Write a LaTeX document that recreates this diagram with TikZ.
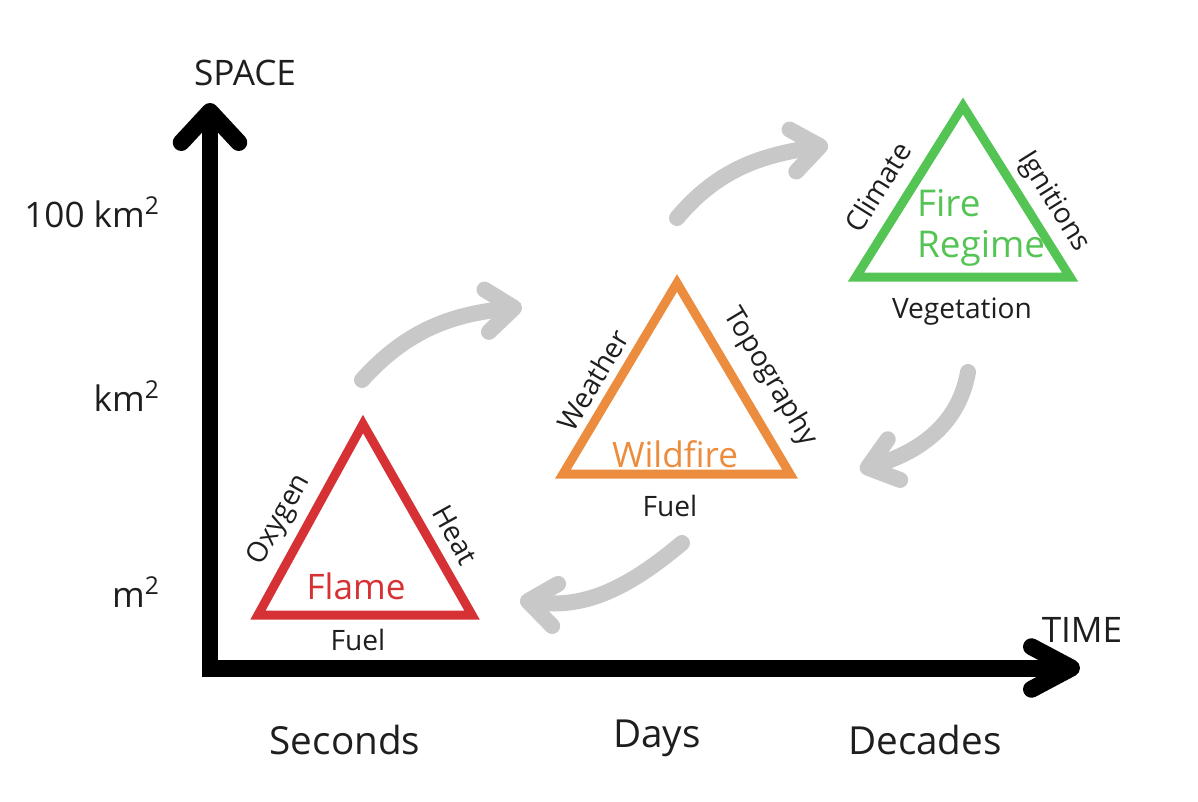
\documentclass[tikz,border=0pt]{standalone}
\usepackage{fontspec}
\setmainfont{Open Sans}
\usepackage{tikz}
\usetikzlibrary{arrows.meta, positioning}
\definecolor{flamered}{RGB}{214,50,54}
\definecolor{wildorange}{RGB}{236,140,62}
\definecolor{regimegreen}{RGB}{84,196,84}
\definecolor{cyclegray}{RGB}{200,200,200}
\definecolor{labelblack}{RGB}{30,30,30}

\begin{document}
\begin{tikzpicture}[
                x=0.02cm, y=0.02cm,
                axis/.style={line width=0.34cm, line join=miter, draw=black},
                cycle_arrow/.style={line width=0.32cm, draw=cyclegray, line cap=round, -{Straight Barb[length=0.55cm, width=0.85cm, round]}},
                triangle/.style={line width=0.18cm, line join=miter},
                scale_label/.style={anchor=east, text=labelblack, font=\fontsize{20}{24}\selectfont},
                axis_name/.style={text=labelblack, font=\fontsize{20}{24}\selectfont},
                time_label/.style={text=labelblack, font=\fontsize{22}{26}\selectfont},
                side_label/.style={text=labelblack, inner sep=1pt, font=\fontsize{16}{19}\selectfont},
                title_label/.style={font=\fontsize{20}{24}\selectfont}
            ]%
            \useasboundingbox (0,0) rectangle (1198,-802);
            %
            % Ejes
            \coordinate (origin) at (210,-668);
            \coordinate (space_end) at (210,-103);
            \coordinate (time_end) at (1080,-668);
            \draw[axis, {Straight Barb[length=0.62cm, width=1.15cm, round]}-{Straight Barb[length=0.8cm, width=0.85cm, round]}] (space_end) -- (origin) -- (time_end);
            \node[axis_name] (space) at (245,-73) {SPACE};
            \node[axis_name] (time) at (1082,-630) {TIME};
            %
            % Escalas
            \node[scale_label] (s_big) at (166,-212) {100 km\textsuperscript{2}};
            \node[scale_label] (s_km) at (166,-396) {km\textsuperscript{2}};
            \node[scale_label] (s_m) at (166,-592) {m\textsuperscript{2}};
            \node[time_label] (t_sec) at (345,-740) {Seconds};
            \node[time_label] (t_days) at (657,-738) {Days};
            \node[time_label] (t_dec) at (925,-740) {Decades};
            %
            % Triangulo Flame
            \coordinate (fl_l) at (258,-615);
            \coordinate (fl_r) at (472,-615);
            \coordinate (fl_t) at (363,-424);
            \draw[triangle, flamered] (fl_l) -- (fl_r) -- (fl_t) -- cycle;
            \node[title_label, text=flamered] (flame) at (356,-586) {Flame};
            \node[side_label, rotate=61] (oxygen) at (280,-520) {Oxygen};
            \node[side_label, rotate=-61] (heat) at (455,-535) {Heat};
            \node[side_label] (fl_fuel) at (358,-640) {Fuel};
            %
            % Triangulo Wildfire
            \coordinate (wf_l) at (563,-474);
            \coordinate (wf_r) at (790,-474);
            \coordinate (wf_t) at (677,-283);
            \draw[triangle, wildorange] (wf_l) -- (wf_r) -- (wf_t) -- cycle;
            \node[title_label, text=wildorange] (wildfire) at (675,-454) {Wildfire};
            \node[side_label, rotate=59] (weather) at (593,-380) {Weather};
            \node[side_label, rotate=-59] (topo) at (770,-377) {Topography};
            \node[side_label] (wf_fuel) at (670,-506) {Fuel};
            %
            % Triangulo Fire Regime
            \coordinate (fr_l) at (856,-277);
            \coordinate (fr_r) at (1070,-277);
            \coordinate (fr_t) at (963,-106);
            \draw[triangle, regimegreen] (fr_l) -- (fr_r) -- (fr_t) -- cycle;
            \node[anchor=west, align=left, inner sep=1pt, text=regimegreen, font=\fontsize{21}{23}\selectfont] (regime) at (915,-228) {Fire\\Regime};
            \node[side_label, rotate=58] (climate) at (878,-187) {Climate};
            \node[side_label, rotate=-58] (ignit) at (1053,-202) {Ignitions};
            \node[side_label] (veget) at (962,-312) {Vegetation};
            %
            % Flechas del ciclo
            \coordinate (c1_s) at (362,-380);
            \coordinate (c1_e) at (522,-307);
            \coordinate (c2_s) at (677,-218);
            \coordinate (c2_e) at (828,-145);
            \coordinate (c3_s) at (968,-372);
            \coordinate (c3_e) at (860,-470);
            \coordinate (c4_s) at (682,-543);
            \coordinate (c4_e) at (520,-600);
            \draw[cycle_arrow] (c1_s) to[out=48, in=186] (c1_e);
            \draw[cycle_arrow] (c2_s) to[out=50, in=189] (c2_e);
            \draw[cycle_arrow] (c3_s) to[out=-100, in=17] (c3_e);
            \draw[cycle_arrow] (c4_s) to[out=220, in=-8] (c4_e);
        \end{tikzpicture}
\end{document}
